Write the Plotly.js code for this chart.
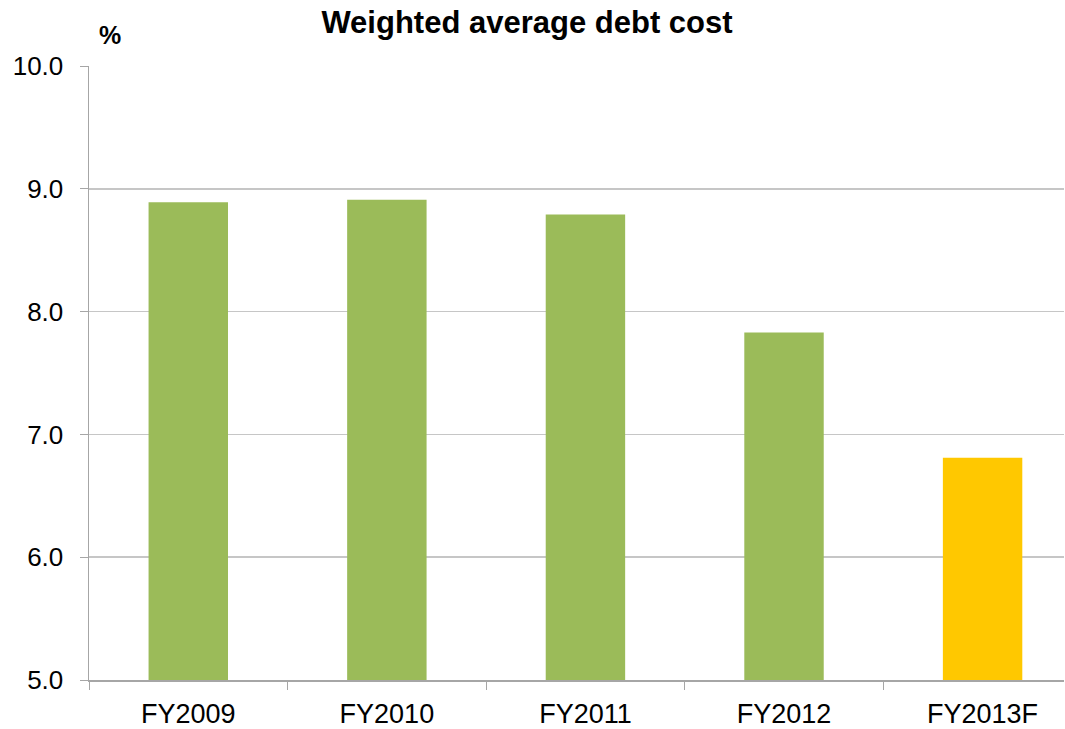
<!DOCTYPE html>
<html>
<head>
<meta charset="utf-8">
<script src="https://cdn.plot.ly/plotly-3.0.1.min.js"></script>
<style>html,body{margin:0;padding:0;background:#fff;}#chart{width:1065px;height:729px;}</style>
</head>
<body>
<div id="chart"></div>
<script>
const categories = ["FY2009", "FY2010", "FY2011", "FY2012", "FY2013F"];
const debtCost = [8.89, 8.91, 8.79, 7.83, 6.81];
const barColors = ["#9BBB59", "#9BBB59", "#9BBB59", "#9BBB59", "#FFC800"];
const yTickVals = [5, 6, 7, 8, 9, 10];
const yTickText = ["5.0", "6.0", "7.0", "8.0", "9.0", "10.0"];

const trace = {
  type: "bar",
  x: categories,
  y: debtCost,
  width: 0.4,
  marker: { color: barColors, line: { width: 0 } },
  hoverinfo: "x+y"
};

const layout = {
  width: 1065,
  height: 729,
  margin: { l: 89, r: 1, t: 66, b: 49 },
  paper_bgcolor: "#ffffff",
  plot_bgcolor: "#ffffff",
  showlegend: false,
  font: { family: "Liberation Sans, Arial, sans-serif", color: "#000000" },
  title: {
    text: "<b>Weighted average debt cost</b>",
    font: { size: 31, family: "Liberation Sans, Arial, sans-serif", color: "#000" },
    x: 527 / 1065,
    xanchor: "center",
    xref: "container",
    yref: "container",
    y: 1 - 22 / 729,
    yanchor: "middle"
  },
  xaxis: {
    type: "category",
    range: [-0.5, 4.41],
    showgrid: false,
    showline: true,
    linecolor: "#A6A6A6",
    linewidth: 1.5,
    ticks: "outside",
    tickson: "boundaries",
    ticklen: 8,
    tickcolor: "#A6A6A6",
    tickfont: { size: 27 },
    ticklabelstandoff: 9,
    zeroline: false
  },
  yaxis: {
    range: [5, 10],
    tickvals: yTickVals,
    ticktext: yTickText,
    showgrid: true,
    gridcolor: "#C6C6C6",
    gridwidth: 1.5,
    showline: true,
    linecolor: "#A6A6A6",
    linewidth: 1.5,
    ticks: "outside",
    ticklen: 8,
    tickcolor: "#A6A6A6",
    tickfont: { size: 26 },
    ticklabelstandoff: 11,
    zeroline: false
  },
  annotations: [{
    text: "<b>%</b>",
    xref: "paper", yref: "paper",
    x: (109.5 - 89) / 975, y: 1 + (66 - 35) / 614,
    xanchor: "center", yanchor: "middle",
    showarrow: false,
    font: { size: 25, family: "Liberation Sans, Arial, sans-serif", color: "#000" }
  }]
};

Plotly.newPlot("chart", [trace], layout, { displayModeBar: false, staticPlot: true });
</script>
</body>
</html>
